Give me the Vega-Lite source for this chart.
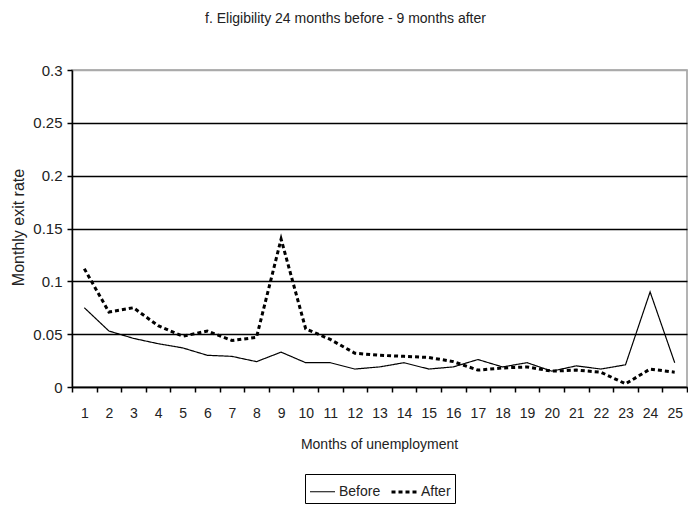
{
  "$schema": "https://vega.github.io/schema/vega-lite/v6.json",
  "width": 615,
  "height": 317,
  "autosize": {"type": "none"},
  "padding": {"left": 72, "top": 70, "right": 1, "bottom": 121},
  "background": "white",
  "title": {
    "text": "f. Eligibility 24 months before - 9 months after",
    "font": "Liberation Sans, sans-serif",
    "fontSize": 14,
    "fontWeight": "normal",
    "color": "#222",
    "anchor": "middle",
    "dx": -34,
    "offset": 37
  },
  "config": {
    "view": {"stroke": "#9a9a9a", "strokeWidth": 1.5},
    "font": "Liberation Sans, sans-serif"
  },
  "data": {
    "values": [
      {"month": 1, "series": "Before", "rate": 0.075},
      {"month": 2, "series": "Before", "rate": 0.053},
      {"month": 3, "series": "Before", "rate": 0.046},
      {"month": 4, "series": "Before", "rate": 0.041},
      {"month": 5, "series": "Before", "rate": 0.037},
      {"month": 6, "series": "Before", "rate": 0.030},
      {"month": 7, "series": "Before", "rate": 0.029},
      {"month": 8, "series": "Before", "rate": 0.024},
      {"month": 9, "series": "Before", "rate": 0.033},
      {"month": 10, "series": "Before", "rate": 0.023},
      {"month": 11, "series": "Before", "rate": 0.023},
      {"month": 12, "series": "Before", "rate": 0.017},
      {"month": 13, "series": "Before", "rate": 0.019},
      {"month": 14, "series": "Before", "rate": 0.023},
      {"month": 15, "series": "Before", "rate": 0.017},
      {"month": 16, "series": "Before", "rate": 0.019},
      {"month": 17, "series": "Before", "rate": 0.026},
      {"month": 18, "series": "Before", "rate": 0.019},
      {"month": 19, "series": "Before", "rate": 0.023},
      {"month": 20, "series": "Before", "rate": 0.015},
      {"month": 21, "series": "Before", "rate": 0.020},
      {"month": 22, "series": "Before", "rate": 0.017},
      {"month": 23, "series": "Before", "rate": 0.021},
      {"month": 24, "series": "Before", "rate": 0.090},
      {"month": 25, "series": "Before", "rate": 0.023},
      {"month": 1, "series": "After", "rate": 0.112},
      {"month": 2, "series": "After", "rate": 0.071},
      {"month": 3, "series": "After", "rate": 0.075},
      {"month": 4, "series": "After", "rate": 0.058},
      {"month": 5, "series": "After", "rate": 0.048},
      {"month": 6, "series": "After", "rate": 0.053},
      {"month": 7, "series": "After", "rate": 0.044},
      {"month": 8, "series": "After", "rate": 0.047},
      {"month": 9, "series": "After", "rate": 0.140},
      {"month": 10, "series": "After", "rate": 0.055},
      {"month": 11, "series": "After", "rate": 0.045},
      {"month": 12, "series": "After", "rate": 0.032},
      {"month": 13, "series": "After", "rate": 0.030},
      {"month": 14, "series": "After", "rate": 0.029},
      {"month": 15, "series": "After", "rate": 0.028},
      {"month": 16, "series": "After", "rate": 0.024},
      {"month": 17, "series": "After", "rate": 0.016},
      {"month": 18, "series": "After", "rate": 0.018},
      {"month": 19, "series": "After", "rate": 0.019},
      {"month": 20, "series": "After", "rate": 0.015},
      {"month": 21, "series": "After", "rate": 0.016},
      {"month": 22, "series": "After", "rate": 0.014},
      {"month": 23, "series": "After", "rate": 0.003},
      {"month": 24, "series": "After", "rate": 0.017},
      {"month": 25, "series": "After", "rate": 0.014}
    ]
  },
  "mark": {"type": "line", "color": "black", "strokeCap": "butt"},
  "encoding": {
    "x": {
      "field": "month",
      "type": "ordinal",
      "bandPosition": 0.5,
      "scale": {"type": "band", "paddingInner": 0, "paddingOuter": 0},
      "axis": {
        "title": "Months of unemployment",
        "labelAngle": 0,
        "tickBand": "extent",
        "grid": false,
        "labelFontSize": 14,
        "labelColor": "#222",
        "labelPadding": 14,
        "tickSize": 5,
        "tickColor": "black",
        "tickWidth": 1.5,
        "domainColor": "black",
        "domainWidth": 1.5,
        "titleFontSize": 14,
        "titleFontWeight": "normal",
        "titleColor": "#222",
        "titleY": 57,
        "titleBaseline": "middle",
        "titleX": 307
      }
    },
    "y": {
      "field": "rate",
      "type": "quantitative",
      "scale": {"domain": [0, 0.3], "nice": false},
      "axis": {
        "title": "Monthly exit rate",
        "values": [0, 0.05, 0.1, 0.15, 0.2, 0.25, 0.3],
        "format": "~g",
        "labelFontSize": 15,
        "labelColor": "#222",
        "labelPadding": 5,
        "tickSize": 5,
        "tickColor": "black",
        "tickWidth": 1.5,
        "domainColor": "black",
        "domainWidth": 1.5,
        "grid": true,
        "gridColor": {"condition": {"test": "datum.value >= 0.29", "value": "#aaaaaa"}, "value": "black"},
        "gridWidth": 1.5,
        "titleFontSize": 16,
        "titleFontWeight": "normal",
        "titleColor": "#222",
        "titleAngle": -90,
        "titleX": -54,
        "titleY": 157,
        "titleBaseline": "middle"
      }
    },
    "strokeDash": {
      "field": "series",
      "type": "nominal",
      "scale": {"domain": ["Before", "After"], "range": [[1, 0], [4, 3]]},
      "legend": {
        "orient": "none",
        "legendX": 233,
        "legendY": 404,
        "direction": "horizontal",
        "title": null,
        "strokeColor": "black",
        "padding": 4,
        "symbolType": "stroke",
        "symbolSize": 625,
        "symbolStrokeColor": "black",
        "labelFontSize": 14,
        "labelColor": "#222",
        "labelOffset": 3,
        "columnPadding": 4
      }
    },
    "strokeWidth": {
      "field": "series",
      "type": "nominal",
      "scale": {"domain": ["Before", "After"], "range": [1.2, 3], "padding": 0},
      "legend": {
        "orient": "none",
        "legendX": 233,
        "legendY": 404,
        "direction": "horizontal",
        "title": null,
        "strokeColor": "black",
        "padding": 4,
        "symbolType": "stroke",
        "symbolSize": 625,
        "symbolStrokeColor": "black",
        "labelFontSize": 14,
        "labelColor": "#222",
        "labelOffset": 3,
        "columnPadding": 4
      }
    }
  }
}
